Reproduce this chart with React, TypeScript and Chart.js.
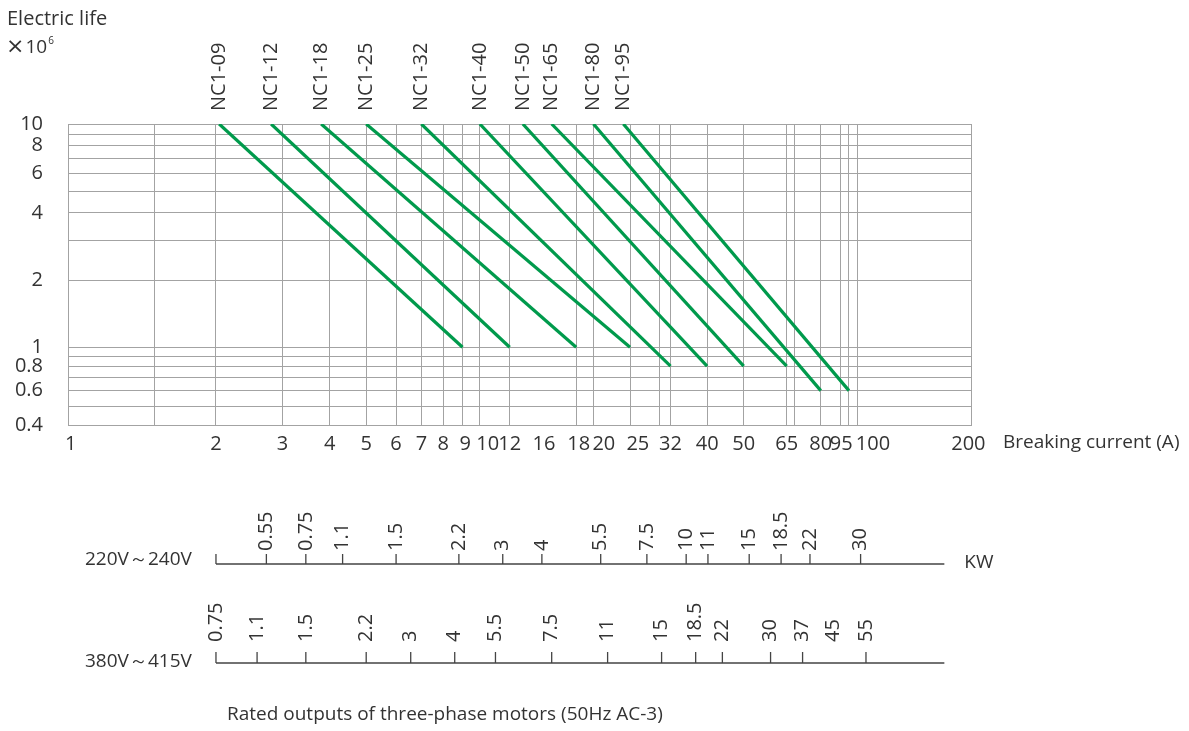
import React, { useEffect, useRef } from 'react';
import { Chart, Scale, registerables } from 'chart.js';

const FONT = "'Open Sans', 'DejaVu Sans', sans-serif";
const TEXT = '#333333';
const GRID = '#a3a3a3';
const GREEN = '#009a4c';
const AXIS_DARK = '#444444';

// ---- data ----
const models = ['NC1-09', 'NC1-12', 'NC1-18', 'NC1-25', 'NC1-32', 'NC1-40', 'NC1-50', 'NC1-65', 'NC1-80', 'NC1-95'];
const startCurrent = [2.04, 2.8, 3.8, 5, 7, 10, 13, 15.5, 20, 24];
const startLife = [10, 10, 10, 10, 10, 10, 10, 10, 10, 10];
const endCurrent = [9, 12, 18, 25, 32, 40, 50, 65, 80, 95];
const endLife = [1, 1, 1, 1, 0.8, 0.8, 0.8, 0.8, 0.6, 0.6];

const xGridValues = [1, 1.5, 2, 3, 4, 5, 6, 7, 8, 9, 10, 12, 16, 18, 20, 25, 30, 32, 40, 50, 65, 68, 80, 90, 95, 100, 200];
const xLabeled = [1, 2, 3, 4, 5, 6, 7, 8, 9, 10, 12, 16, 18, 20, 25, 32, 40, 50, 65, 80, 95, 100, 200];
const xNoGrid = [16];
const yGridValues = [0.4, 0.5, 0.6, 0.7, 0.8, 0.9, 1, 2, 3, 4, 5, 6, 7, 8, 9, 10];
const yLabeled = [0.4, 0.6, 0.8, 1, 2, 4, 6, 8, 10];

const kw220Labels = ['0.55', '0.75', '1.1', '1.5', '2.2', '3', '4', '5.5', '7.5', '10', '11', '15', '18.5', '22', '30'];
const kw220Current = [2.72, 3.46, 4.33, 6, 8.8, 11.5, 14.6, 20.9, 27.7, 35.2, 40.2, 51.7, 62.8, 74.9, 102];
const kw380Labels = ['0.75', '1.1', '1.5', '2.2', '3', '4', '5.5', '7.5', '11', '15', '18.5', '22', '30', '37', '45', '55'];
const kw380Current = [2, 2.57, 3.46, 5, 6.56, 8.58, 11, 15.5, 21.8, 30.3, 37.3, 43.9, 58.9, 71.6, 86.2, 105.4];
const kw380NoTick = ['45'];
const kwLineRange = [2, 170];

// label spacing tweaks (crowded labels in the original)
const padLeft: Record<string, number> = { '1': 1, '9': 1, '10': 3, '18': 1, '20': 4, '25': 3, '100': 6 };
const padRight: Record<string, number> = { '16': 5, '95': 3, '200': 1 };

// ---- custom graph-paper log scale: pure log above the knee, stretched/compressed below ----
const SCALE_PARAMS: Record<string, { knee: number; k: number }> = {
  x: { knee: 2, k: 1.302 },
  y: { knee: 1, k: 0.875 },
};
const SCALE_TICKS: Record<string, number[]> = { x: xGridValues, y: yGridValues };

class PaperLogScale extends Scale {
  static id = 'paperlog';
  static defaults = {};
  _s: number = 0;
  _e: number = 1;
  prm() {
    return SCALE_PARAMS[(this as any).id] || { knee: 1, k: 1 };
  }
  fn(v: number) {
    const { knee, k } = this.prm();
    const l = Math.log10(v);
    const lk = Math.log10(knee);
    return l >= lk ? l : lk + k * (l - lk);
  }
  inv(t: number) {
    const { knee, k } = this.prm();
    const lk = Math.log10(knee);
    return t >= lk ? Math.pow(10, t) : Math.pow(10, lk + (t - lk) / k);
  }
  determineDataLimits() {
    const o: any = this.options;
    (this as any).min = o.min;
    (this as any).max = o.max;
  }
  buildTicks() {
    return (SCALE_TICKS[(this as any).id] || []).map((v) => ({ value: v }));
  }
  getLabelForValue(v: number) {
    return String(v);
  }
  configure() {
    super.configure();
    this._s = this.fn((this as any).min);
    this._e = this.fn((this as any).max);
  }
  getPixelForValue(v: number) {
    if (v === undefined || v === null || isNaN(v as any)) return NaN as any;
    return this.getPixelForDecimal((this.fn(v) - this._s) / (this._e - this._s));
  }
  getValueForPixel(p: number) {
    const d = this.getDecimalForPixel(p);
    return this.inv(this._s + d * (this._e - this._s));
  }
}

Chart.register(...registerables, PaperLogScale as any);

const xTickText = (v: number) => {
  if (!xLabeled.includes(v)) return '';
  const s = String(v);
  return ' '.repeat(padLeft[s] || 0) + s + ' '.repeat(padRight[s] || 0);
};
const yTickText = (v: number) => (yLabeled.includes(v) ? String(v) : '');

const font = (s: number, fam: string = FONT) => `${s}px ${fam}`;

const extrasPlugin = {
  id: 'extras',
  afterDraw(chart: any) {
    const ctx = chart.ctx as CanvasRenderingContext2D;
    const xs = chart.scales.x;
    const ys = chart.scales.y;
    ctx.save();
    ctx.fillStyle = TEXT;
    ctx.textBaseline = 'middle';
    ctx.textAlign = 'left';

    ctx.font = font(20);
    ctx.fillText('Electric life', 7, 19);
    ctx.font = font(22, "'DejaVu Sans', sans-serif");
    ctx.fillText('×', 6, 47);
    const wx = ctx.measureText('×').width;
    ctx.font = font(19);
    ctx.fillText('10', 6 + wx + 1, 48);
    const w10 = ctx.measureText('10').width;
    ctx.font = font(10);
    ctx.fillText('6', 6 + wx + 1 + w10 + 1, 41);

    // model labels
    ctx.font = font(20);
    models.forEach((m, i) => {
      const px = xs.getPixelForValue(startCurrent[i]);
      const py = ys.getPixelForValue(startLife[i]);
      ctx.save();
      ctx.translate(px, py - 13);
      ctx.rotate(-Math.PI / 2);
      ctx.fillText(m, 0, 0);
      ctx.restore();
    });

    ctx.font = font(19);
    ctx.fillText('Breaking current (A)', xs.right + 32, 443);

    const drawKw = (y: number, currents: number[], labels: string[], noTick: string[], tickLen: number, gap: number) => {
      const x0 = xs.getPixelForValue(kwLineRange[0]);
      const x1 = xs.getPixelForValue(kwLineRange[1]);
      ctx.strokeStyle = AXIS_DARK;
      ctx.lineWidth = 1.3;
      ctx.beginPath();
      ctx.moveTo(x0, y);
      ctx.lineTo(x1, y);
      ctx.moveTo(x0, y);
      ctx.lineTo(x0, y - tickLen);
      currents.forEach((c, i) => {
        if (noTick.includes(labels[i])) return;
        const px = xs.getPixelForValue(c);
        ctx.moveTo(px, y);
        ctx.lineTo(px, y - tickLen);
      });
      ctx.stroke();
      ctx.font = font(20);
      currents.forEach((c, i) => {
        const px = xs.getPixelForValue(c);
        ctx.save();
        ctx.translate(px, y - tickLen - gap);
        ctx.rotate(-Math.PI / 2);
        ctx.fillText(labels[i], 0, 0);
        ctx.restore();
      });
      return x1;
    };

    const end220 = drawKw(564, kw220Current, kw220Labels, [], 10, 3);
    drawKw(663, kw380Current, kw380Labels, kw380NoTick, 11, 10);

    ctx.font = font(19);
    ctx.fillText('220V～240V', 85, 560);
    ctx.fillText('380V～415V', 85, 662);
    ctx.fillText('KW', end220 + 20, 563);
    ctx.fillText('Rated outputs of three-phase motors (50Hz AC-3)', 227, 715);
    ctx.restore();
  },
};

export default function App() {
  const ref = useRef<HTMLCanvasElement | null>(null);
  useEffect(() => {
    if (!ref.current) return;
    const chart = new Chart(ref.current, {
      type: 'line',
      data: {
        datasets: models.map((m, i) => ({
          label: m,
          data: [
            { x: startCurrent[i], y: startLife[i] },
            { x: endCurrent[i], y: endLife[i] },
          ],
          borderColor: GREEN,
          backgroundColor: GREEN,
          borderWidth: 3.2,
          pointRadius: 0,
          fill: false,
          tension: 0,
          borderCapStyle: 'butt',
        })),
      },
      options: {
        animation: false,
        responsive: true,
        maintainAspectRatio: false,
        layout: { padding: { left: 8, top: 124, right: 218, bottom: 266 } },
        plugins: { legend: { display: false }, tooltip: { enabled: false } },
        scales: {
          x: {
            type: 'paperlog' as any,
            min: 1,
            max: 200,
            position: 'bottom',
            grid: {
              color: (c: any) => (c.tick && xNoGrid.includes(c.tick.value) ? 'rgba(0,0,0,0)' : GRID),
              lineWidth: 1,
              drawTicks: false,
            },
            border: { color: GRID, width: 1 },
            ticks: {
              autoSkip: false,
              maxRotation: 0,
              minRotation: 0,
              padding: 7,
              color: TEXT,
              font: { size: 20, family: FONT },
              callback: (v: any) => xTickText(Number(v)),
            },
            afterFit: (s: any) => {
              s.height = 40;
            },
          } as any,
          y: {
            type: 'paperlog' as any,
            min: 0.4,
            max: 10,
            position: 'left',
            grid: { color: GRID, lineWidth: 1, drawTicks: false },
            border: { color: GRID, width: 1 },
            ticks: {
              autoSkip: false,
              padding: 25,
              color: TEXT,
              font: { size: 20, family: FONT },
              callback: (v: any) => yTickText(Number(v)),
            },
            afterFit: (s: any) => {
              s.width = 60;
            },
          } as any,
        },
      },
      plugins: [extrasPlugin],
    } as any);
    return () => chart.destroy();
  }, []);
  return (
    <div style={{ position: 'fixed', left: 0, top: 0, width: '1189px', height: '731px', background: '#ffffff' }}>
      <canvas ref={ref} />
    </div>
  );
}
